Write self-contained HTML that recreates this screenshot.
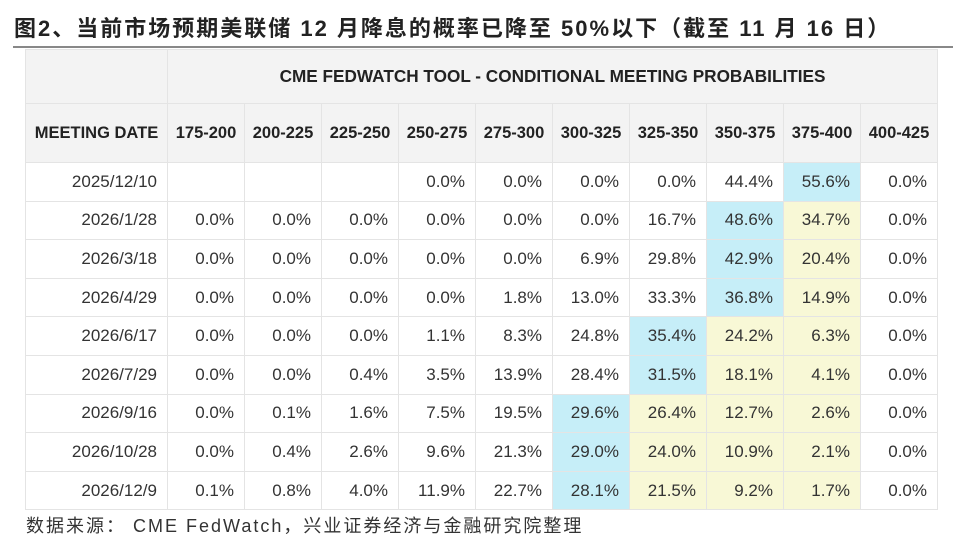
<!DOCTYPE html>
<html><head><meta charset="utf-8"><style>
body{margin:0;width:966px;height:550px;background:#fff;position:relative;overflow:hidden;font-family:"Liberation Sans","Noto Sans CJK SC",sans-serif;color:#222}
.title{position:absolute;left:14px;top:11px;font-size:22px;font-weight:bold;letter-spacing:2px;white-space:nowrap}
.rule{position:absolute;left:13px;top:46px;width:940px;height:2px;background:#888}
table{position:absolute;left:25px;top:49px;border-collapse:collapse;table-layout:fixed}
td{border:1.5px solid #e4e4e4;padding:0 10px 0 0;text-align:right;font-size:17px;height:37.6px;color:#333;white-space:nowrap}
.h td{background:#f3f3f3;font-weight:bold;font-size:16.5px;text-align:center;padding:0;color:#222}
.h .w{font-size:17.2px}
.b{background:#c6eef8}.y{background:#f8f8d6}
.src{position:absolute;left:26px;top:512px;font-size:18px;letter-spacing:2px;color:#333}
</style></head><body>
<div class="title">图2、当前市场预期美联储 12 月降息的概率已降至 50%以下（截至 11 月 16 日）</div>
<div class="rule"></div>
<table>
<colgroup><col style="width:142px"><col span="10" style="width:77px"></colgroup>
<tr class="h" style="height:54px"><td></td><td colspan="10" class="w">CME FEDWATCH TOOL - CONDITIONAL MEETING PROBABILITIES</td></tr>
<tr class="h" style="height:59px"><td>MEETING DATE</td><td>175-200</td><td>200-225</td><td>225-250</td><td>250-275</td><td>275-300</td><td>300-325</td><td>325-350</td><td>350-375</td><td>375-400</td><td>400-425</td></tr>
<tr><td>2025/12/10</td><td></td><td></td><td></td><td>0.0%</td><td>0.0%</td><td>0.0%</td><td>0.0%</td><td>44.4%</td><td class="b">55.6%</td><td>0.0%</td></tr>
<tr><td>2026/1/28</td><td>0.0%</td><td>0.0%</td><td>0.0%</td><td>0.0%</td><td>0.0%</td><td>0.0%</td><td>16.7%</td><td class="b">48.6%</td><td class="y">34.7%</td><td>0.0%</td></tr>
<tr><td>2026/3/18</td><td>0.0%</td><td>0.0%</td><td>0.0%</td><td>0.0%</td><td>0.0%</td><td>6.9%</td><td>29.8%</td><td class="b">42.9%</td><td class="y">20.4%</td><td>0.0%</td></tr>
<tr><td>2026/4/29</td><td>0.0%</td><td>0.0%</td><td>0.0%</td><td>0.0%</td><td>1.8%</td><td>13.0%</td><td>33.3%</td><td class="b">36.8%</td><td class="y">14.9%</td><td>0.0%</td></tr>
<tr><td>2026/6/17</td><td>0.0%</td><td>0.0%</td><td>0.0%</td><td>1.1%</td><td>8.3%</td><td>24.8%</td><td class="b">35.4%</td><td class="y">24.2%</td><td class="y">6.3%</td><td>0.0%</td></tr>
<tr><td>2026/7/29</td><td>0.0%</td><td>0.0%</td><td>0.4%</td><td>3.5%</td><td>13.9%</td><td>28.4%</td><td class="b">31.5%</td><td class="y">18.1%</td><td class="y">4.1%</td><td>0.0%</td></tr>
<tr><td>2026/9/16</td><td>0.0%</td><td>0.1%</td><td>1.6%</td><td>7.5%</td><td>19.5%</td><td class="b">29.6%</td><td class="y">26.4%</td><td class="y">12.7%</td><td class="y">2.6%</td><td>0.0%</td></tr>
<tr><td>2026/10/28</td><td>0.0%</td><td>0.4%</td><td>2.6%</td><td>9.6%</td><td>21.3%</td><td class="b">29.0%</td><td class="y">24.0%</td><td class="y">10.9%</td><td class="y">2.1%</td><td>0.0%</td></tr>
<tr><td>2026/12/9</td><td>0.1%</td><td>0.8%</td><td>4.0%</td><td>11.9%</td><td>22.7%</td><td class="b">28.1%</td><td class="y">21.5%</td><td class="y">9.2%</td><td class="y">1.7%</td><td>0.0%</td></tr>
</table>
<div class="src">数据来源： CME FedWatch，兴业证券经济与金融研究院整理</div>
</body></html>
